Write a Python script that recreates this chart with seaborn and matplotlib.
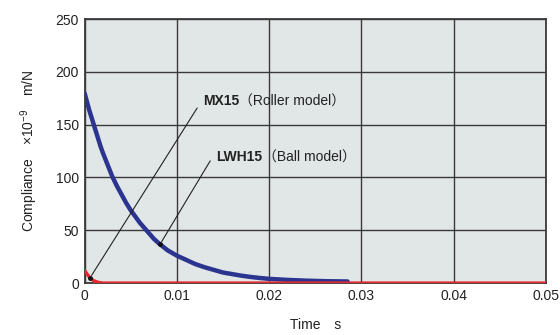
import matplotlib
matplotlib.use("Agg")
import matplotlib.pyplot as plt
import seaborn as sns
import pandas as pd

# Data
blue_t = [0, 0.00025, 0.0005, 0.00075, 0.001, 0.00125, 0.0015, 0.00175, 0.002, 0.0025,
          0.003, 0.0035, 0.004, 0.0045, 0.005, 0.0055, 0.006, 0.0065, 0.007, 0.0075,
          0.008, 0.0085, 0.009, 0.0095, 0.010, 0.011, 0.012, 0.013, 0.014, 0.015,
          0.016, 0.017, 0.018, 0.019, 0.020, 0.022, 0.024, 0.026, 0.0285]
blue_c = [180, 172, 164, 157, 150, 143, 136, 129, 123, 112,
          101, 92, 84, 76, 69, 63, 57, 52, 47, 42,
          38, 34.5, 31, 28.5, 26, 22, 18, 15, 12.5, 10,
          8.5, 7, 5.8, 4.8, 4, 3, 2.3, 1.8, 1.5]
red_t = [0, 0.0002, 0.0004, 0.0006, 0.0008, 0.001, 0.0013, 0.0016, 0.002, 0.01, 0.03, 0.05]
red_c = [12, 9.5, 7, 5, 3.5, 2.2, 1.2, 0.5, 0, 0, 0, 0]

xticks = [0, 0.01, 0.02, 0.03, 0.04, 0.05]
xtick_labels = ["0", "0.01", "0.02", "0.03", "0.04", "0.05"]
yticks = [0, 50, 100, 150, 200, 250]

sns.set_theme(style="white")
plt.rcParams['font.family'] = ['Liberation Sans', 'Noto Sans CJK JP', 'DejaVu Sans']
plt.rcParams['mathtext.fontset'] = 'custom'
plt.rcParams['mathtext.rm'] = 'Liberation Sans'
plt.rcParams['mathtext.it'] = 'Liberation Sans'
plt.rcParams['mathtext.default'] = 'rm'

fig = plt.figure(figsize=(5.6, 3.35), dpi=100)
ax = fig.add_axes([0.151, 0.155, 0.824, 0.788])
ax.set_facecolor("#e1e6e6")

df_b = pd.DataFrame({"t": blue_t, "c": blue_c})
df_r = pd.DataFrame({"t": red_t, "c": red_c})
sns.lineplot(data=df_b, x="t", y="c", ax=ax, color="#2b3590", lw=3.2, zorder=3)
sns.lineplot(data=df_r, x="t", y="c", ax=ax, color="#e8262d", lw=2.4, zorder=4)

ax.set_xlim(0, 0.05)
ax.set_ylim(0, 250)
ax.set_xticks(xticks)
ax.set_xticklabels(xtick_labels)
ax.set_yticks(yticks)
ax.grid(True, color="#3a3a3a", lw=1.0, zorder=1)
ax.set_axisbelow(True)
for s in ax.spines.values():
    s.set_color("#3a3a3a")
    s.set_linewidth(1.3)
ax.tick_params(axis="both", labelsize=10, colors="#222222", length=0, pad=4)
for lab in ax.get_xticklabels() + ax.get_yticklabels():
    lab.set_color("#222222")

ax.set_xlabel("Time\u2003s", fontsize=10, color="#222222", labelpad=11)
ax.set_ylabel("Compliance\u2003×10$^{-9}$\u2003m/N", fontsize=10, color="#222222", labelpad=11)

# Annotations
ax.annotate("", xy=(0.0006, 5), xytext=(0.01236, 168),
            arrowprops=dict(arrowstyle="-", color="#222222", lw=0.8), zorder=5)
ax.plot([0.0006], [5], marker="o", ms=2.5, color="#111111", zorder=6)
t1 = ax.text(0.0128, 172, "MX15", fontsize=10, fontweight="bold", color="#222222",
             va="center", ha="left", zorder=6)
ax.annotate("（Roller model）", xy=(1, 0.5), xycoords=t1, va="center", ha="left",
            fontsize=10, color="#222222", zorder=6)

ax.annotate("", xy=(0.0082, 37), xytext=(0.01377, 118),
            arrowprops=dict(arrowstyle="-", color="#222222", lw=0.8), zorder=5)
ax.plot([0.0082], [37], marker="o", ms=2.5, color="#111111", zorder=6)
t2 = ax.text(0.0143, 119, "LWH15", fontsize=10, fontweight="bold", color="#222222",
             va="center", ha="left", zorder=6)
ax.annotate("（Ball model）", xy=(1, 0.5), xycoords=t2, va="center", ha="left",
            fontsize=10, color="#222222", zorder=6)

fig.savefig("out.png", dpi=100)
